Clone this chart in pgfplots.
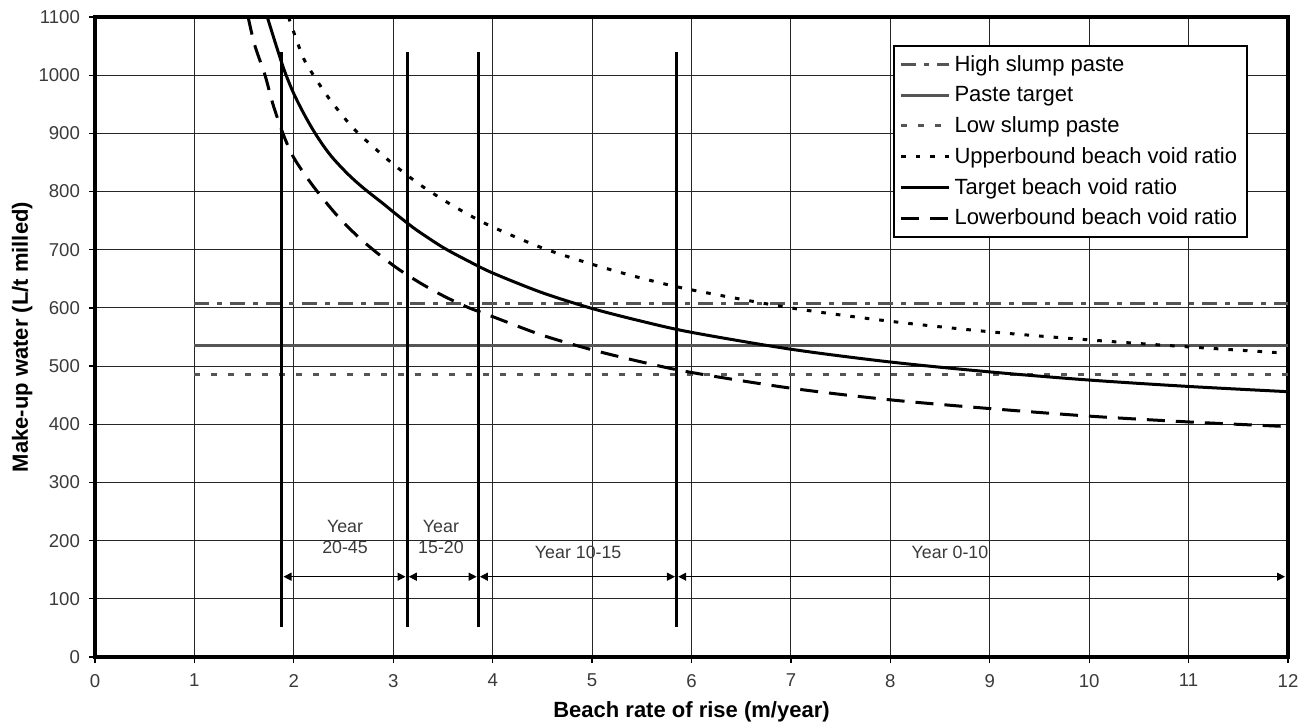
\documentclass[border=0pt]{standalone}
\usepackage{fontspec}
\setmainfont{Liberation Sans}
\usepackage{pgfplots}
\pgfplotsset{compat=1.18}
\usetikzlibrary{arrows.meta}
\definecolor{pastegray}{HTML}{555555}
\definecolor{ticktext}{HTML}{3A3A3A}
\begin{document}
\begin{tikzpicture}
\begin{axis}[
  scale only axis,
  width=596.5pt, height=320pt,
  xmin=0, xmax=12, ymin=0, ymax=1100,
  xtick={0,1,...,12}, ytick={0,100,...,1100},
  grid=major,
  major grid style={black!85, line width=0.5pt},
  axis line style={line width=1.6pt},
  tick pos=left, tick align=outside, major tick length=3pt,
  tick style={black, line width=0.6pt},
  /pgf/number format/assume math mode=true,
  /pgf/number format/1000 sep={},
  tick label style={font=\fontsize{9.3}{11}\selectfont, text=ticktext},
  xticklabel style={yshift=-2pt},
  yticklabel style={xshift=-1pt},
  xlabel={Beach rate of rise (m/year)},
  ylabel={Make-up water (L/t milled)},
  label style={font=\fontsize{11}{13}\selectfont\bfseries},
  xlabel style={at={(axis description cs:0.5,-0.09375)}, anchor=base},
  ylabel style={at={(axis description cs:-0.0562,0.5)}, anchor=base},
  legend cell align=left,
  legend style={at={(axis description cs:0.9665,0.956)}, anchor=north east,
    draw=black, line width=1pt, font=\fontsize{11}{13}\selectfont,
    row sep=2pt, inner xsep=3pt, inner ysep=2.5pt},
  legend image code/.code={\draw[#1] (0pt,0pt) -- (24pt,0pt);},
]
\addplot[pastegray, line width=1.5pt, dash pattern=on 7.5pt off 4pt on 2.5pt off 4pt] coordinates {(1,607) (12,607)};
\addlegendentry{High slump paste}
\addplot[pastegray, line width=1.5pt] coordinates {(1,535) (12,535)};
\addlegendentry{Paste target}
\addplot[pastegray, line width=1.5pt, dash pattern=on 3pt off 5.5pt] coordinates {(1,485) (12,485)};
\addlegendentry{Low slump paste}
\addplot[black, line width=1.5pt, dash pattern=on 2.3pt off 5pt, smooth] coordinates {
(1.946,1100)(2.08,1036)(2.16,1010)(2.35,961)(2.57,914)(2.70,892)(2.83,872)(3.0,847)(3.25,814)(3.5,786)(3.75,761)(4,739)(4.5,703)(5,675)(5.5,651)(6,631)(7,600)(8,577)(9,559)(10,545)(11,533)(12,522)};
\addlegendentry{Upperbound beach void ratio}
\addplot[black, line width=1.5pt, smooth] coordinates {
(1.733,1100)(1.80,1063)(1.873,1024)(1.92,1001)(2.0,968)(2.1,934)(2.2,904)(2.3,878)(2.4,856)(2.55,829)(2.7,806)(2.9,779)(3.0,765)(3.14,746)(3.25,732)(3.5,704)(3.75,681)(4,660)(4.5,626)(5,599)(5.5,577)(6,558)(7,529)(8,507)(9,490)(10,476)(11,465)(12,456)};
\addlegendentry{Target beach void ratio}
\addplot[black, line width=1.5pt, dash pattern=on 9pt off 5.5pt, smooth] coordinates {
(1.54,1100)(1.606,1052)(1.71,1000)(1.79,950)(1.89,900)(2.0,858)(2.2,808)(2.45,756)(2.7,714)(3.0,673)(3.25,645)(3.5,621)(3.75,601)(4,585)(4.5,553)(5,528)(5.5,507)(6,489)(7,462)(8,442)(9,427)(10,414)(11,404)(12,396)};
\addlegendentry{Lowerbound beach void ratio}
% year boundaries
\addplot[black, line width=1.5pt, forget plot] coordinates {(1.88,52)(1.88,1040)};
\addplot[black, line width=1.5pt, forget plot] coordinates {(3.14,52)(3.14,1040)};
\addplot[black, line width=1.5pt, forget plot] coordinates {(3.855,52)(3.855,1040)};
\addplot[black, line width=1.5pt, forget plot] coordinates {(5.85,52)(5.85,1040)};
% arrows
\addplot[black, line width=0.6pt, {Triangle[length=4pt,width=4pt]}-{Triangle[length=4pt,width=4pt]}, forget plot, shorten <=0.8pt, shorten >=0.8pt] coordinates {(1.88,138)(3.14,138)};
\addplot[black, line width=0.6pt, {Triangle[length=4pt,width=4pt]}-{Triangle[length=4pt,width=4pt]}, forget plot, shorten <=0.8pt, shorten >=0.8pt] coordinates {(3.14,138)(3.855,138)};
\addplot[black, line width=0.6pt, {Triangle[length=4pt,width=4pt]}-{Triangle[length=4pt,width=4pt]}, forget plot, shorten <=0.8pt, shorten >=0.8pt] coordinates {(3.855,138)(5.85,138)};
\addplot[black, line width=0.6pt, {Triangle[length=4pt,width=4pt]}-{Triangle[length=4pt,width=4pt]}, forget plot, shorten <=0.8pt, shorten >=1.5pt] coordinates {(5.85,138)(12,138)};
\node[font=\fontsize{8.9}{10.5}\selectfont, align=center, text=ticktext] at (axis cs:2.515,206) {Year\\20-45};
\node[font=\fontsize{8.9}{10.5}\selectfont, align=center, text=ticktext] at (axis cs:3.48,206) {Year\\15-20};
\node[font=\fontsize{8.9}{10.5}\selectfont, text=ticktext] at (axis cs:4.86,179) {Year 10-15};
\node[font=\fontsize{8.9}{10.5}\selectfont, text=ticktext] at (axis cs:8.6,179) {Year 0-10};
\end{axis}
\pgfresetboundingbox
\path ([shift={(-47.5pt,-35pt)}]current axis.south west) rectangle ([shift={(10.5pt,8.5pt)}]current axis.north east);
\end{tikzpicture}
\end{document}
